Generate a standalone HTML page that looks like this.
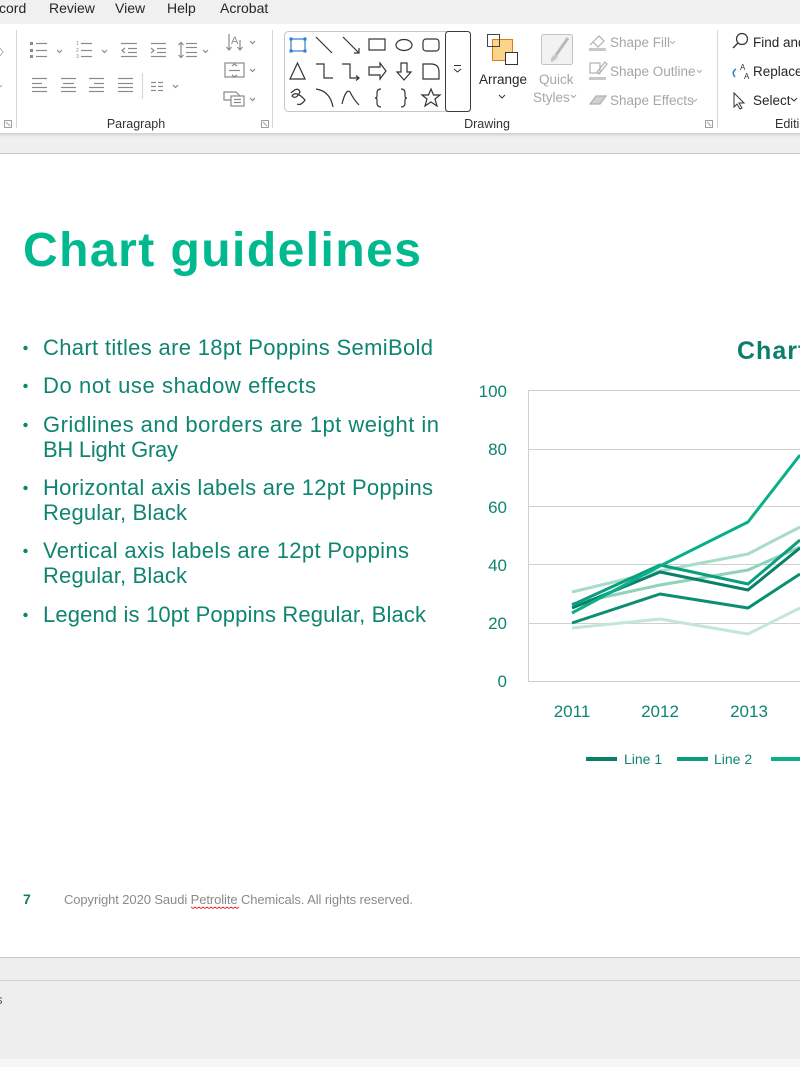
<!DOCTYPE html>
<html><head><meta charset="utf-8"><style>
html,body{margin:0;padding:0;background:#fff;}
svg{display:block;}
text{font-family:"Liberation Sans",sans-serif;}
</style></head><body>
<svg width="800" height="1067" viewBox="0 0 800 1067" xmlns="http://www.w3.org/2000/svg">
<defs>
<linearGradient id="sh" x1="0" y1="0" x2="0" y2="1">
<stop offset="0" stop-color="#cfcfcf"/><stop offset="1" stop-color="#efefef"/>
</linearGradient>
</defs>
<!-- backgrounds -->
<rect x="0" y="0" width="800" height="24" fill="#f0f0f0"/>
<rect x="0" y="24" width="800" height="110" fill="#ffffff"/>
<rect x="0" y="133" width="800" height="4" fill="url(#sh)"/>
<rect x="0" y="137" width="800" height="16" fill="#efefef"/>
<rect x="0" y="153" width="800" height="1" fill="#c9c9c9"/>
<rect x="0" y="154" width="800" height="803" fill="#ffffff"/>
<rect x="0" y="957" width="800" height="1" fill="#c8c8c8"/>
<rect x="0" y="958" width="800" height="101" fill="#eeeeee"/>
<rect x="0" y="980" width="800" height="1" fill="#d0d0d0"/>
<rect x="0" y="1059" width="800" height="8" fill="#f6f6f6"/>
<text x="-4" y="1004" font-size="13" fill="#555">s</text>

<!-- tabs -->
<g font-size="14" fill="#262626">
<text x="-1" y="13">cord</text>
<text x="49" y="13">Review</text>
<text x="115" y="13">View</text>
<text x="167" y="13">Help</text>
<text x="220" y="13">Acrobat</text>
</g>

<!-- group separators -->
<g stroke="#d6d6d6" stroke-width="1">
<line x1="16.5" y1="30" x2="16.5" y2="128"/>
<line x1="272.5" y1="30" x2="272.5" y2="128"/>
<line x1="717.5" y1="30" x2="717.5" y2="128"/>
</g>
<!-- dialog launchers -->
<g fill="none" stroke="#a0a0a0" stroke-width="1">
<rect x="4.5" y="120.5" width="7" height="7"/><line x1="6" y1="122" x2="10" y2="126"/>
<rect x="261.5" y="120.5" width="7" height="7"/><line x1="263" y1="122" x2="267" y2="126"/>
<rect x="705.5" y="120.5" width="7" height="7"/><line x1="707" y1="122" x2="711" y2="126"/>
</g>
<!-- left partial icons -->
<path d="M0 48 L3 52 L0 56" fill="none" stroke="#b0b0b0" stroke-width="1"/>
<path d="M-2 85 L0 87 L2 85" fill="none" stroke="#b0b0b0" stroke-width="1"/>

<!-- paragraph icons -->
<g fill="none" stroke="#8a8a8a" stroke-width="1.2">
<rect x="30" y="42" width="3" height="3" fill="#8a8a8a" stroke="none"/>
<rect x="30" y="49" width="3" height="3" fill="#8a8a8a" stroke="none"/>
<rect x="30" y="55" width="3" height="3" fill="#8a8a8a" stroke="none"/>
<line x1="36" y1="43.5" x2="47" y2="43.5"/><line x1="36" y1="50.5" x2="47" y2="50.5"/><line x1="36" y1="56.5" x2="47" y2="56.5"/>
<path d="M57 50 L59.5 52.5 L62 50"/>
<line x1="81" y1="43.5" x2="92" y2="43.5"/><line x1="81" y1="50.5" x2="92" y2="50.5"/><line x1="81" y1="56.5" x2="92" y2="56.5"/>
<path d="M102 50 L104.5 52.5 L107 50"/>
<line x1="121" y1="43.5" x2="137" y2="43.5"/><line x1="128" y1="48.5" x2="137" y2="48.5"/><line x1="128" y1="52.5" x2="137" y2="52.5"/><line x1="121" y1="56.5" x2="137" y2="56.5"/>
<path d="M125 48 L122 50.5 L125 53"/>
<line x1="151" y1="43.5" x2="166" y2="43.5"/><line x1="157" y1="48.5" x2="166" y2="48.5"/><line x1="157" y1="52.5" x2="166" y2="52.5"/><line x1="151" y1="56.5" x2="166" y2="56.5"/>
<path d="M151 48 L154 50.5 L151 53"/>
<line x1="181" y1="43" x2="181" y2="57"/><path d="M178.5 45 L181 42.5 L183.5 45 M178.5 55 L181 57.5 L183.5 55"/>
<line x1="186" y1="43.5" x2="197" y2="43.5"/><line x1="186" y1="47.5" x2="197" y2="47.5"/><line x1="186" y1="52.5" x2="197" y2="52.5"/><line x1="186" y1="56.5" x2="197" y2="56.5"/>
<path d="M203 50 L205.5 52.5 L208 50"/>
<line x1="32" y1="78.5" x2="47" y2="78.5"/><line x1="32" y1="83.5" x2="42" y2="83.5"/><line x1="32" y1="87.5" x2="47" y2="87.5"/><line x1="32" y1="91.5" x2="47" y2="91.5"/>
<line x1="61" y1="78.5" x2="76" y2="78.5"/><line x1="63" y1="83.5" x2="74" y2="83.5"/><line x1="61" y1="87.5" x2="76" y2="87.5"/><line x1="61" y1="91.5" x2="76" y2="91.5"/>
<line x1="89" y1="78.5" x2="104" y2="78.5"/><line x1="94" y1="83.5" x2="104" y2="83.5"/><line x1="89" y1="87.5" x2="104" y2="87.5"/><line x1="89" y1="91.5" x2="104" y2="91.5"/>
<line x1="118" y1="78.5" x2="133" y2="78.5"/><line x1="118" y1="83.5" x2="133" y2="83.5"/><line x1="118" y1="87.5" x2="133" y2="87.5"/><line x1="118" y1="91.5" x2="133" y2="91.5"/>
<line x1="142.5" y1="73" x2="142.5" y2="99" stroke="#d8d8d8"/>
<line x1="151" y1="82.5" x2="156" y2="82.5"/><line x1="158" y1="82.5" x2="163" y2="82.5"/><line x1="151" y1="86.5" x2="156" y2="86.5"/><line x1="158" y1="86.5" x2="163" y2="86.5"/><line x1="151" y1="90.5" x2="156" y2="90.5"/><line x1="158" y1="90.5" x2="163" y2="90.5"/>
<path d="M173 85 L175.5 87.5 L178 85"/>
<line x1="229" y1="34" x2="229" y2="50"/><path d="M226.5 47 L229 50 L231.5 47"/>
<line x1="240" y1="40" x2="240" y2="50"/><path d="M237.5 47 L240 50 L242.5 47"/>
<text x="231" y="44" font-size="11" fill="#8a8a8a" stroke="none">A</text>
<path d="M250 41 L252.5 43.5 L255 41"/>
<rect x="225" y="63" width="19" height="14"/><line x1="229" y1="70.5" x2="240" y2="70.5"/><path d="M232 66 L234.5 64 L237 66 M232 75 L234.5 77 L237 75"/>
<path d="M250 69 L252.5 71.5 L255 69"/>
<path d="M224 92 L236 92 L240 96 L236 100 L224 100 Z"/><rect x="231" y="96" width="13" height="10" fill="#fff"/><line x1="234" y1="99.5" x2="241" y2="99.5"/><line x1="234" y1="102.5" x2="241" y2="102.5"/>
<path d="M250 98 L252.5 100.5 L255 98"/>
</g>
<g font-size="5" fill="#8a8a8a"><text x="76" y="45">1</text><text x="76" y="52">2</text><text x="76" y="58">3</text></g>

<!-- shapes gallery -->
<rect x="284.5" y="31.5" width="186" height="80" rx="4" fill="none" stroke="#c6c6c6"/>
<rect x="445.5" y="31.5" width="25" height="80" rx="3" fill="#fff" stroke="#3a3a3a"/>
<path d="M454 65.5 L461 65.5 M454 69 L457.5 72 L461 69" fill="none" stroke="#333" stroke-width="1"/>
<g fill="none" stroke="#333" stroke-width="1.2">
<rect x="291" y="39" width="14" height="12" stroke="#2b7cd3"/>
<g fill="#2b7cd3" stroke="none"><rect x="289.5" y="37.5" width="3" height="3"/><rect x="303.5" y="37.5" width="3" height="3"/><rect x="289.5" y="49.5" width="3" height="3"/><rect x="303.5" y="49.5" width="3" height="3"/></g>
<line x1="316" y1="37" x2="332" y2="53"/>
<line x1="343" y1="37" x2="359" y2="53"/><path d="M354 53 L359 53 L359 48"/>
<rect x="369" y="39" width="16" height="11"/>
<ellipse cx="404" cy="45" rx="8" ry="5.5"/>
<rect x="423" y="39" width="16" height="12" rx="3"/>
<path d="M290 79 L297.5 63 L305 79 Z"/>
<path d="M316 64 L324 64 L324 78 L333 78"/>
<path d="M342 64 L350 64 L350 78 L359 78 M356 75.5 L359 78 L356 80.5"/>
<path d="M369 67 L380 67 L380 63 L386 71 L380 79 L380 75 L369 75 Z"/>
<path d="M401 63 L407 63 L407 72 L411 72 L404 80 L397 72 L401 72 Z"/>
<path d="M423 64 L431 64 Q439 64 439 72 L439 79 L423 79 Z"/>
<path d="M291 93 Q298 86 300 92 Q296 100 292 96 Q296 90 305 100 Q301 106 297 104"/>
<path d="M316 89 Q330 91 333 107"/>
<path d="M342 104 Q346 88 350 92 Q354 100 359 105"/>
<path d="M381 89 Q377 89 377 93 L377 96 Q377 98 375 98 Q377 98 377 100 L377 103 Q377 107 381 107"/>
<path d="M401 89 Q405 89 405 93 L405 96 Q405 98 407 98 Q405 98 405 100 L405 103 Q405 107 401 107"/>
<path d="M431 89 L433.5 95 L440 95 L435 99 L437 106 L431 102 L425 106 L427 99 L422 95 L428.5 95 Z"/>
</g>

<!-- arrange -->
<rect x="487.5" y="34.5" width="12" height="12" fill="#fff" stroke="#444"/>
<rect x="492.5" y="39.5" width="20" height="21" fill="#f9d58c" stroke="#e07c10"/>
<rect x="487.5" y="34.5" width="12" height="12" fill="none" stroke="#444"/>
<rect x="505.5" y="52.5" width="12" height="12" fill="#fff" stroke="#333"/>
<text x="479" y="84" font-size="13.5" fill="#262626">Arrange</text>
<path d="M499 95 L502 98 L505 95" fill="none" stroke="#333" stroke-width="1"/>

<!-- quick styles -->
<rect x="541.5" y="34.5" width="31" height="30" rx="2" fill="#f2f2f2" stroke="#c4c4c4"/>
<path d="M568 38 L556 55" stroke="#b8b8b8" stroke-width="3" fill="none"/>
<path d="M556 54 Q550 56 551 62 Q556 61 558 56 Z" fill="#c8c8c8"/>
<text x="539" y="84" font-size="13.5" fill="#a6a6a6">Quick</text>
<text x="533" y="102" font-size="13.5" fill="#a6a6a6">Styles</text>
<path d="M571 95 L573.5 97.5 L576 95" fill="none" stroke="#a6a6a6" stroke-width="1"/>

<!-- shape fill/outline/effects -->
<g fill="none" stroke="#b0b0b0" stroke-width="1.2">
<path d="M593 42 L599 36 L604 41 L598 47 Z"/><path d="M590 45 L593 42"/>
<rect x="589" y="48" width="17" height="3" fill="#c8c8c8" stroke="none"/>
<rect x="590" y="63" width="10" height="10"/><path d="M597 72 L605 62 L607 64 L599 74 Z"/>
<rect x="589" y="77" width="17" height="3" fill="#c8c8c8" stroke="none"/>
<path d="M590 104 L596 96 L606 96 L600 104 Z" fill="#d0d0d0"/>
</g>
<g font-size="13.5" fill="#a6a6a6">
<text x="610" y="47">Shape Fill</text>
<text x="610" y="76">Shape Outline</text>
<text x="610" y="105">Shape Effects</text>
</g>
<g fill="none" stroke="#b0b0b0" stroke-width="1">
<path d="M670 41 L672.5 43.5 L675 41"/>
<path d="M697 70 L699.5 72.5 L702 70"/>
<path d="M692 99 L694.5 101.5 L697 99"/>
</g>

<!-- editing -->
<circle cx="742" cy="39" r="5.5" fill="none" stroke="#333" stroke-width="1.2"/>
<line x1="738" y1="43" x2="733" y2="48" stroke="#333" stroke-width="1.3"/>
<text x="740" y="70" font-size="8" fill="#333">A</text>
<text x="744" y="79" font-size="8" fill="#333">A</text>
<path d="M736 69 Q731 72 735 77" fill="none" stroke="#2b7cd3" stroke-width="1.5"/>
<path d="M734 93 L734 107 L737 104 L740 109 L742 108 L739 103 L744 103 Z" fill="#fff" stroke="#333" stroke-width="1"/>
<g font-size="13.5" fill="#262626">
<text x="753" y="47">Find and</text>
<text x="753" y="76">Replace</text>
<text x="753" y="105">Select</text>
</g>
<path d="M791 98 L794 101 L797 98" fill="none" stroke="#333" stroke-width="1"/>

<!-- group labels -->
<g font-size="12.5" fill="#333">
<text x="136" y="128" text-anchor="middle">Paragraph</text>
<text x="487" y="128" text-anchor="middle">Drawing</text>
<text x="775" y="128">Editing</text>
</g>

<!-- slide heading -->
<text x="23" y="266" font-size="48" font-weight="bold" fill="#00b98e" textLength="398" lengthAdjust="spacing">Chart guidelines</text>

<!-- bullets -->
<g fill="#0f8571">
<circle cx="25.5" cy="348" r="2.2"/>
<circle cx="25.5" cy="386" r="2.2"/>
<circle cx="25.5" cy="425" r="2.2"/>
<circle cx="25.5" cy="488" r="2.2"/>
<circle cx="25.5" cy="551" r="2.2"/>
<circle cx="25.5" cy="615" r="2.2"/>
</g>
<g font-size="22" fill="#0f8571">
<text x="43" y="355" textLength="390" lengthAdjust="spacing">Chart titles are 18pt Poppins SemiBold</text>
<text x="43" y="393" textLength="273" lengthAdjust="spacing">Do not use shadow effects</text>
<text x="43" y="432" textLength="396" lengthAdjust="spacing">Gridlines and borders are 1pt weight in</text>
<text x="43" y="457" textLength="135" lengthAdjust="spacing">BH Light Gray</text>
<text x="43" y="495" textLength="390" lengthAdjust="spacing">Horizontal axis labels are 12pt Poppins</text>
<text x="43" y="520" textLength="144" lengthAdjust="spacing">Regular, Black</text>
<text x="43" y="558" textLength="366" lengthAdjust="spacing">Vertical axis labels are 12pt Poppins</text>
<text x="43" y="583" textLength="144" lengthAdjust="spacing">Regular, Black</text>
<text x="43" y="622" textLength="383" lengthAdjust="spacing">Legend is 10pt Poppins Regular, Black</text>
</g>

<!-- chart title -->
<text x="737" y="359" font-size="25" font-weight="bold" fill="#0b7f6b" letter-spacing="1">Chart Title</text>

<!-- gridlines -->
<g stroke="#d0d0d0" stroke-width="1">
<line x1="528" y1="390.5" x2="800" y2="390.5"/>
<line x1="528" y1="449.5" x2="800" y2="449.5"/>
<line x1="528" y1="506.5" x2="800" y2="506.5"/>
<line x1="528" y1="564.5" x2="800" y2="564.5"/>
<line x1="528" y1="623.5" x2="800" y2="623.5"/>
<line x1="528" y1="681.5" x2="800" y2="681.5"/>
<line x1="528.5" y1="390" x2="528.5" y2="682"/>
</g>
<!-- y labels -->
<g font-size="17" fill="#0f8571" text-anchor="end">
<text x="507" y="397">100</text>
<text x="507" y="455">80</text>
<text x="507" y="513">60</text>
<text x="507" y="571">40</text>
<text x="507" y="629">20</text>
<text x="507" y="687">0</text>
</g>
<!-- x labels -->
<g font-size="17" fill="#0f8571" text-anchor="middle">
<text x="572" y="717">2011</text>
<text x="660" y="717">2012</text>
<text x="749" y="717">2013</text>
</g>

<!-- series -->
<g fill="none" stroke-width="3" stroke-linejoin="round">
<polyline stroke="#c2e7da" points="572,628 660,619 748,634 800,608"/>
<polyline stroke="#8fd3bb" points="572,604 660,585 748,570 800,547"/>
<polyline stroke="#a6dcc9" points="572,592 660,571 748,554 800,527"/>
<polyline stroke="#0b8f72" points="572,623 660,594 748,608 800,574"/>
<polyline stroke="#0a8068" points="572,608 660,572 748,590 800,548"/>
<polyline stroke="#099e7e" points="572,605 660,565 748,584 800,540"/>
<polyline stroke="#0bb08a" points="572,613 660,566 748,522 800,455"/>
</g>

<!-- legend -->
<g stroke-width="4">
<line x1="586" y1="759" x2="617" y2="759" stroke="#0a8068"/>
<line x1="677" y1="759" x2="708" y2="759" stroke="#099e7e"/>
<line x1="771" y1="759" x2="802" y2="759" stroke="#0bb08a"/>
</g>
<g font-size="14" fill="#0f8571">
<text x="624" y="764">Line 1</text>
<text x="714" y="764">Line 2</text>
</g>

<!-- footer -->
<text x="23" y="904" font-size="14" font-weight="bold" fill="#0a7f6b">7</text>
<text x="64" y="904" font-size="13" fill="#8a8a8a" textLength="349" lengthAdjust="spacing">Copyright 2020 Saudi Petrolite Chemicals. All rights reserved.</text>
<path d="M191 907 l2 1.5 l2 -1.5 l2 1.5 l2 -1.5 l2 1.5 l2 -1.5 l2 1.5 l2 -1.5 l2 1.5 l2 -1.5 l2 1.5 l2 -1.5 l2 1.5 l2 -1.5 l2 1.5 l2 -1.5 l2 1.5 l2 -1.5 l2 1.5 l2 -1.5 l2 1.5 l2 -1.5 l2 1.5 l2 -1.5" fill="none" stroke="#e02020" stroke-width="0.8"/>
</svg>
</body></html>
